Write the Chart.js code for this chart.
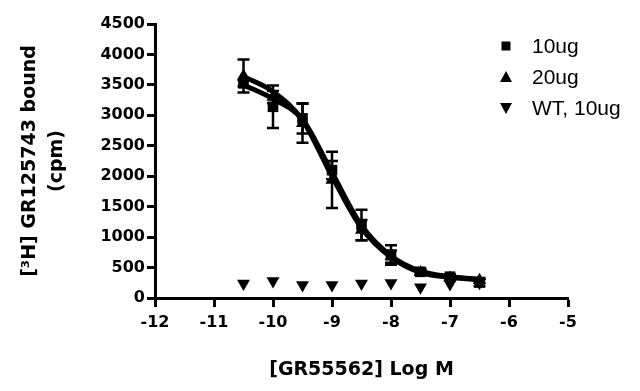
<!DOCTYPE html>
<html>
<head>
<meta charset="utf-8">
<script src="https://cdn.jsdelivr.net/npm/chart.js@4.4.1/dist/chart.umd.min.js"></script>
<style>
  html, body { margin: 0; padding: 0; background: #fff; }
  #wrap { width: 640px; height: 391px; }
</style>
</head>
<body>
<div id="wrap"><canvas id="chart"></canvas></div>
<script>
// --- Data ---
const logConc = [-10.5, -10, -9.5, -9, -8.5, -8, -7.5, -7, -6.5];

const ug10 = [3525, 3140, 2950, 2100, 1200, 705, 430, 350, 255];
const ug10Err = [50, 350, 250, 150, 250, 160, 50, 40, 60];
const ug10Fit = [3500, 3270, 2930, 2060, 1190, 690, 440, 350, 310];

const ug20 = [3645, 3300, 2870, 1940, 1115, 680, 420, 330, 290];
const ug20Err = [270, 100, 320, 460, 165, 100, 40, 40, 40];
const ug20Fit = [3640, 3390, 2920, 2000, 1150, 670, 420, 340, 300];

const wt10 = [240, 280, 215, 215, 240, 245, 175, 230, 250];

const xTicks = [-12, -11, -10, -9, -8, -7, -6, -5];
const yTicks = [0, 500, 1000, 1500, 2000, 2500, 3000, 3500, 4000, 4500];

const toPts = (ys) => ys.map((y, i) => ({ x: logConc[i], y: y }));

// error bars drawn through the chart scales
const errorBarPlugin = {
    id: 'errorBars',
    afterDatasetsDraw: (chart) => {
        const { ctx, scales: { x, y } } = chart;
        ctx.save();
        ctx.strokeStyle = '#000';
        ctx.lineWidth = 2.5;
        chart.data.datasets.forEach((ds) => {
            if (!ds.errorBars) return;
            ds.data.forEach((p, i) => {
                const e = ds.errorBars[i];
                const px = x.getPixelForValue(p.x);
                const top = y.getPixelForValue(p.y + e);
                const bot = y.getPixelForValue(p.y - e);
                ctx.beginPath();
                ctx.moveTo(px, top); ctx.lineTo(px, bot);
                ctx.moveTo(px - 6, top); ctx.lineTo(px + 6, top);
                ctx.moveTo(px - 6, bot); ctx.lineTo(px + 6, bot);
                ctx.stroke();
            });
        });
        ctx.restore();
    }
};

// legend in the upper right, like the original figure
const legendPlugin = {
    id: 'figLegend',
    afterDraw: (chart) => {
        const { ctx } = chart;
        const items = chart.data.datasets.filter(d => d.legendShape);
        ctx.save();
        ctx.fillStyle = '#000';
        ctx.font = '21px "Liberation Sans", Arial, sans-serif';
        ctx.textBaseline = 'middle';
        items.forEach((d, i) => {
            const mx = 506, my = 46 + i * 31;
            ctx.beginPath();
            if (d.legendShape === 'square') {
                ctx.rect(mx - 4.5, my - 4.5, 9, 9);
            } else if (d.legendShape === 'up') {
                ctx.moveTo(mx, my - 6); ctx.lineTo(mx + 6, my + 5); ctx.lineTo(mx - 6, my + 5);
            } else {
                ctx.moveTo(mx, my + 6); ctx.lineTo(mx + 6, my - 5); ctx.lineTo(mx - 6, my - 5);
            }
            ctx.closePath();
            ctx.fill();
            ctx.fillText(d.label, 532, my + 1);
        });
        ctx.restore();
    }
};

const tickFont = { family: '"DejaVu Sans", sans-serif', size: 16, weight: 'bold' };
const titleFont = { family: '"DejaVu Sans", sans-serif', size: 19, weight: 'bold', lineHeight: 1.4 };

new Chart(document.getElementById('chart'), {
    type: 'scatter',
    data: {
        datasets: [
            {
                label: '10ug fit', data: toPts(ug10Fit), showLine: true,
                borderColor: '#000', borderWidth: 5, pointRadius: 0,
                cubicInterpolationMode: 'monotone'
            },
            {
                label: '20ug fit', data: toPts(ug20Fit), showLine: true,
                borderColor: '#000', borderWidth: 5, pointRadius: 0,
                cubicInterpolationMode: 'monotone'
            },
            {
                label: '10ug', data: toPts(ug10), errorBars: ug10Err, legendShape: 'square',
                pointStyle: 'rect', pointRadius: 7.5, backgroundColor: '#000', borderColor: '#000', borderWidth: 0
            },
            {
                label: '20ug', data: toPts(ug20), errorBars: ug20Err, legendShape: 'up',
                pointStyle: 'triangle', pointRadius: 7.5, backgroundColor: '#000', borderColor: '#000', borderWidth: 0
            },
            {
                label: 'WT, 10ug', data: toPts(wt10), legendShape: 'down',
                pointStyle: 'triangle', rotation: 180, pointRadius: 7.5, backgroundColor: '#000', borderColor: '#000', borderWidth: 0
            }
        ]
    },
    options: {
        responsive: true,
        maintainAspectRatio: false,
        animation: false,
        layout: { padding: { top: 24, right: 72, left: 0, bottom: 0 } },
        plugins: { legend: { display: false }, tooltip: { enabled: false } },
        scales: {
            x: {
                type: 'linear', min: -12, max: -5,
                afterFit: (s) => { s.height = 93; },
                afterBuildTicks: (s) => { s.ticks = xTicks.map(v => ({ value: v })); },
                ticks: { color: '#000', font: tickFont, padding: 6, callback: (v) => String(v) },
                grid: { drawOnChartArea: false, drawTicks: true, tickLength: 9, tickWidth: 3, tickColor: '#000' },
                border: { display: true, color: '#000', width: 3 },
                title: {
                    display: true, text: '[GR55562] Log M', color: '#000',
                    font: titleFont, padding: { top: 0, bottom: 8 }
                }
            },
            y: {
                min: 0, max: 4500,
                afterFit: (s) => { s.width = 155; },
                afterBuildTicks: (s) => { s.ticks = yTicks.map(v => ({ value: v })); },
                ticks: { color: '#000', font: tickFont, padding: 2, callback: (v) => String(v) },
                grid: { drawOnChartArea: false, drawTicks: true, tickLength: 8, tickWidth: 3, tickColor: '#000' },
                border: { display: true, color: '#000', width: 3 },
                title: {
                    display: true, text: ['[³H] GR125743 bound', '(cpm)'], color: '#000',
                    font: titleFont, padding: { top: 17, bottom: 0 }
                }
            }
        }
    },
    plugins: [errorBarPlugin, legendPlugin]
});
</script>
</body>
</html>
